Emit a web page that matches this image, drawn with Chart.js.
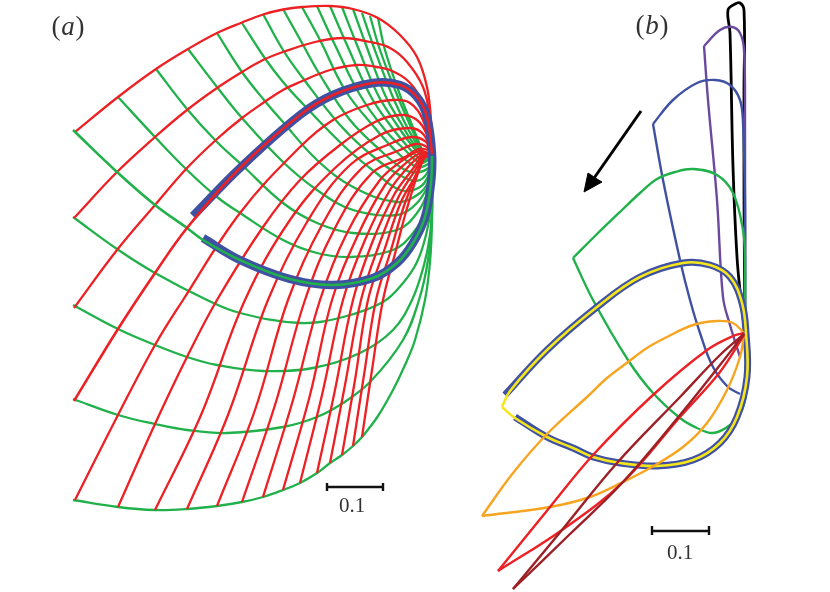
<!DOCTYPE html>
<html><head><meta charset="utf-8">
<style>html,body{margin:0;padding:0;background:#fff}canvas{display:block}</style>
<script src="https://cdn.jsdelivr.net/npm/chart.js@4"></script></head>
<body><canvas id="c" width="830" height="592"></canvas>
<script>
const redA1=[[75,132],[118,97],[156,69],[188,49],[217,33],[242,22.5],[263,14.5],[283,9.5],[302,7],[330,6],[353,9],[378,18],[400,35],[417,57],[427,87],[431,120],[432,154]];
const redA2=[[74,218],[117,172],[155,137],[187,110],[217,88],[242,72],[263,60],[283,52],[315,42],[343,38],[370,42],[390,48],[407,62],[423,87],[430,118],[432,154]];
const redA3=[[74,308],[117,250],[155,205],[187,168],[217,139],[242,118],[263,103],[283,90],[300,82],[330,70],[357,65],[377,67],[390,70],[407,80],[420,97],[428,120],[432,154]];
const redA4=[[74,401],[118,329],[155,273],[187,228],[240,168],[300,115],[333,95],[373,83],[400,85],[417,97],[427,117],[432,154]];
const redA5=[[75,500],[118,415],[155,345],[183,300],[240,213],[300,147],[333,120],[367,105],[393,100],[410,103],[423,120],[431,154]];
const redA6=[[118,507],[155,424],[187,357],[217,300],[263,227],[300,180],[340,145],[375,122],[400,115],[417,120],[427,135],[431,154]];
const redA7=[[155,510],[201,415],[245,300],[290,220],[335,168],[380,135],[410,128],[424,135],[431,154]];
const redA8=[[187,509],[228,415],[268,300],[307,222],[350,165],[392,143],[412,137],[426,142],[431,154]];
const redA9=[[217,506],[255,410],[288,300],[322,225],[362,168],[400,150],[416,144],[427,147],[431,154]];
const redA10=[[242,502],[275,405],[305,300],[335,228],[372,173],[405,157],[418,149],[428,150],[431,154]];
const redA11=[[263,497],[293,400],[320,300],[347,233],[380,180],[403,160],[420,151],[431,154]];
const redA12=[[283,490],[310,395],[332,300],[357,237],[385,185],[406,163],[421,153],[431,154]];
const redA13=[[300,483],[322,395],[343,300],[365,240],[390,190],[409,166],[422,155],[431,154]];
const redA14=[[317,473],[335,390],[353,300],[372,243],[394,195],[412,170],[423,156],[431,155]];
const redA15=[[330,463],[345,385],[361,300],[379,245],[398,198],[414,172],[424,157],[431,155]];
const redA16=[[342,455],[355,380],[368,300],[385,248],[401,202],[416,175],[424,157],[431,155]];
const redA17=[[353,446],[364,375],[376,300],[391,250],[405,203],[424,158],[431,155]];
const redA18=[[362,437],[372,370],[383,300],[396,250],[408,205],[424,158],[431,155]];

const greenA1=[[73,130],[117,172],[155,205],[187,228],[203,240],[240,260],[290,279],[333,285],[373,278],[397,263],[413,243],[425,217],[431,183],[432,156]];
const greenA2=[[73,217],[117,249],[155,273],[207,300],[240,313],[300,323],[343,317],[383,302],[403,283],[417,262],[426,235],[431,205],[432,156]];
const greenA3=[[73,305],[118,329],[155,345],[187,357],[217,365],[263,371],[313,368],[360,353],[393,330],[412,300],[424,265],[430,235],[432,205],[432,156]];
const greenA4=[[73,399],[118,415],[155,424],[187,430],[227,433],[283,427],[317,417],[343,403],[370,382],[403,340],[419,300],[428,260],[432,215],[432,156]];
const greenA5=[[73,500],[118,507],[155,510],[187,509],[217,506],[242,502],[263,497],[283,490],[300,483],[317,473],[330,463],[342,455],[353,446],[362,437],[378,416],[393,390],[405,365],[415,340],[425,300],[430,262],[432,220],[432,156]];
const greenA6=[[118,97],[155,137],[187,170],[217,197],[240,213],[283,240],[317,253],[350,257],[393,250],[413,233],[427,207],[432,156]];
const greenA7=[[156,69],[187,109],[217,142],[242,165],[283,203],[317,223],[353,233],[397,230],[417,213],[428,190],[432,156]];
const greenA8=[[188,49],[217,87],[242,118],[283,162],[317,190],[353,210],[397,215],[417,203],[430,180],[432,156]];
const greenA9=[[217,33],[242,72],[264,100],[283,122],[317,160],[353,187],[397,202],[420,193],[430,177],[432,156]];
const greenA10=[[242,23],[264,57],[283,82],[302,103],[345,147],[375,172],[400,190],[420,187],[430,172],[432,156]];
const greenA11=[[263,14],[283,50],[302,77],[340,125],[375,158],[405,178],[420,180],[430,168],[432,156]];
const greenA12=[[283,9],[302,43],[320,75],[350,120],[380,150],[405,170],[420,172],[431,165],[432,156]];
const greenA13=[[302,7],[320,40],[345,90],[375,128],[400,155],[418,167],[431,162],[432,156]];
const greenA14=[[317,6],[335,45],[360,95],[385,130],[405,150],[420,163],[432,158]];
const greenA15=[[330,6],[347,45],[370,95],[390,125],[408,147],[422,160],[432,158]];
const greenA16=[[342,7],[357,45],[378,95],[397,125],[410,143],[424,158],[432,157]];
const greenA17=[[353,9],[366,45],[385,95],[402,125],[413,143],[424,156],[432,157]];
const greenA18=[[362,13],[373,45],[392,95],[406,125],[416,143],[424,156]];
const greenA19=[[370,16],[380,50],[397,95],[410,125],[418,143],[424,156]];
const greenA20=[[378,18],[385,50],[400,95],[412,125],[420,145],[424,156]];

const thickA=[[193,216],[240,168],[300,115],[333,95],[373,83],[400,85],[417,97],[427,117],[432,154],[431,183],[425,217],[413,243],[397,263],[373,278],[333,285],[290,279],[240,260],[203,238]];

const blackB=[[745,333],[744,200],[744,90],[744,10],[740,3],[735,4],[728,10],[730,33],[733,167],[737,257],[741,300],[745,333]];
const purpleB=[[745,333],[745,120],[744,50],[740,33],[732,27],[720,30],[704,46]];
const purpleB2=[[704,46],[708,100],[717,200],[723,297],[730,325],[740,357]];
const blueB=[[745,333],[745,200],[743,123],[740,100],[730,85],[715,80],[697,83],[673,100],[653,124]];
const blueB2=[[653,124],[663,180],[680,260],[690,300],[700,333],[713,367],[728,387],[740,394]];
const greenB=[[745,333],[745,260],[743,230],[733,193],[717,175],[693,169],[675,172],[657,179],[640,193],[623,209],[597,234],[573,258]];
const greenB2=[[573,258],[593,300],[628,360],[653,393],[680,418],[697,428],[713,433],[730,425],[742,410],[747,383],[745,333]];
const thickB=[[505,395],[547,350],[597,307],[640,277],[683,263],[710,265],[730,277],[742,303],[746,333],[747,377],[737,417],[720,443],[693,460],[657,466],[620,463],[593,457],[573,448],[547,437],[515,417]];
const yellowB=[[502,407],[510,391],[547,350],[597,307],[640,277],[683,263],[710,265],[730,277],[742,303],[746,333],[747,377],[737,417],[720,443],[693,460],[657,466],[620,463],[593,457],[573,448],[547,437],[515,418],[502,407]];
const orangeB=[[482,516],[513,473],[548,433],[587,397],[607,378],[628,362],[647,348],[667,337],[693,325],[717,321],[733,323],[744,333]];
const orangeB2=[[482,516],[550,507],[590,497],[623,482],[650,468],[683,447],[707,423],[727,390],[740,357],[744,335]];
const redB=[[498,571],[550,507],[593,455],[653,395],[707,350],[733,336],[744,333]];
const redB2=[[498,571],[562,530],[623,482],[680,417],[720,372],[744,335]];
const darkB=[[513,589],[562,530],[617,463],[680,397],[720,355],[744,334]];
const darkB2=[[513,589],[570,534],[623,482],[680,415],[720,365],[744,334]];

const arrowShaft=[[641,111],[592,181]];
const arrowHead=[[584,192],[588,173],[597,179],[602,182],[584,192]];
const scaleA=[[327,483],[327,491],[327,487],[383,487],[383,483],[383,491]];
const scaleB=[[652,526],[652,535],[652,531],[709,531],[709,526],[709,535]];
const textLabels=[["0.1",352,506],["0.1",680,553]];
const panelLabels=[["a",68,28],["b",652,27]];

const RED="#ed2024",GREEN="#21b14b",BLUE="#3f51a3";
const pts=a=>a.map(p=>({x:p[0],y:p[1]}));
const line=(a,color,w,t)=>({data:pts(a),borderColor:color,backgroundColor:color,borderWidth:w,showLine:true,pointRadius:0,tension:t===undefined?0.38:t,fill:false,clip:false});
const redsA=[redA1,redA2,redA3,redA5,redA6,redA7,redA8,redA9,redA10,redA11,redA12,redA13,redA14,redA15,redA16,redA17,redA18];
const greensA=[greenA2,greenA3,greenA4,greenA5,greenA6,greenA7,greenA8,greenA9,greenA10,greenA11,greenA12,greenA13,greenA14,greenA15,greenA16,greenA17,greenA18,greenA19,greenA20];
const head=line(arrowHead,"#000",1,0);head.fill="shape";
const datasets=[
 line(scaleA,"#111",2.4,0),line(scaleB,"#111",2.4,0),line(arrowShaft,"#000",3,0),head,
 line(darkB,"#9e2027",2.4),line(darkB2,"#9e2027",2.4),line(redB,RED,2.4),line(redB2,RED,2.4),
 line(orangeB,"#f7a520",2.4),line(orangeB2,"#f7a520",2.4),
 line(yellowB,"#f5e61c",2.6),line(thickB,BLUE,7),
 line(greenB,GREEN,2.4),line(greenB2,GREEN,2.4),line(blueB,BLUE,2.4),line(blueB2,BLUE,2.4),
 line(purpleB,"#6b4a9e",2.4),line(purpleB2,"#6b4a9e",2.4),line(blackB,"#000",2.8),
 line(redA4,RED,2.6),line(greenA1,GREEN,2.6),line(thickA,BLUE,8.5),
 ...redsA.map(a=>line(a,RED,2.3)),...greensA.map(a=>line(a,GREEN,2.3))
];
const labelPlugin={id:"labels",afterDraw(chart){
  const c=chart.ctx,x=chart.scales.x,y=chart.scales.y;
  c.save();c.textAlign="center";c.textBaseline="middle";c.fillStyle="#333";
  c.font='21px "Liberation Serif"';
  textLabels.forEach(t=>c.fillText(t[0],x.getPixelForValue(t[1]),y.getPixelForValue(t[2])));
  panelLabels.forEach(t=>{
    const px=x.getPixelForValue(t[1]),py=y.getPixelForValue(t[2]);
    c.font='27px "Liberation Serif"';c.fillText("(",px-12,py);c.fillText(")",px+12,py);
    c.font='italic 27px "Liberation Serif"';c.fillText(t[0],px,py);
  });
  c.restore();
}};
new Chart(document.getElementById("c"),{type:"scatter",data:{datasets},plugins:[labelPlugin],options:{
 responsive:false,animation:false,events:[],layout:{padding:0},
 plugins:{legend:{display:false},tooltip:{enabled:false},title:{display:false}},
 scales:{x:{type:"linear",min:0,max:830,display:false},y:{type:"linear",min:0,max:592,reverse:true,display:false}}
}});
</script></body></html>
